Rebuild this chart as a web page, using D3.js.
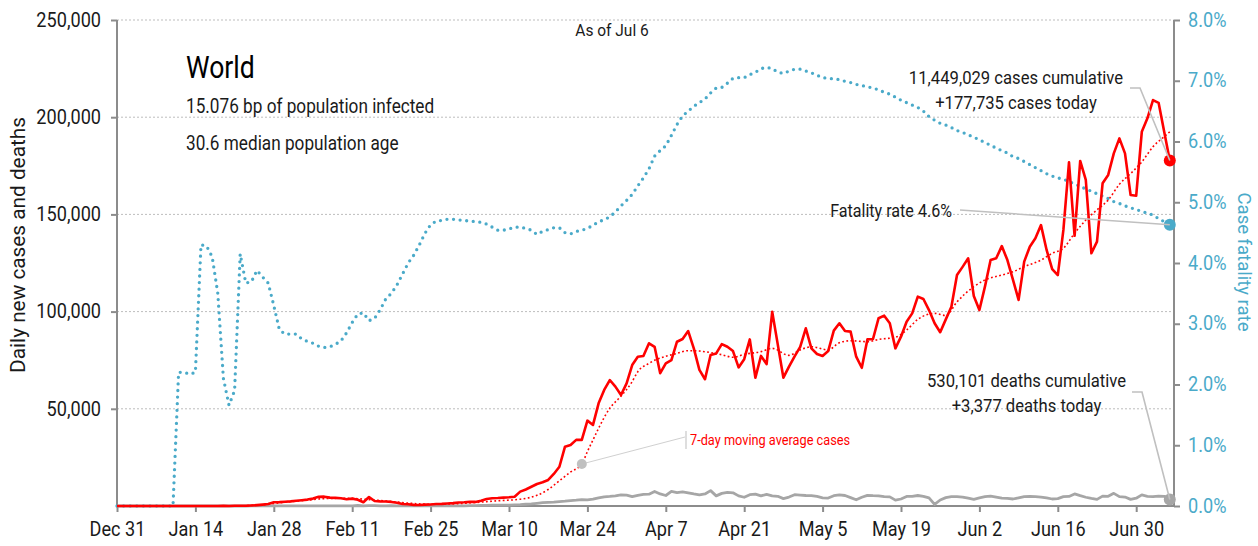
<!DOCTYPE html>
<html><head><meta charset="utf-8">
<script src="https://cdn.jsdelivr.net/npm/d3@7"></script>
<style>
html,body{margin:0;padding:0;background:#fff;}
svg text{font-family:Roboto,'Liberation Sans',sans-serif;}
</style></head><body>
<svg id="chart" width="1258" height="546"></svg>
<script>
// ---------- DATA ----------
const startDate = "2019-12-31"; // day index 0
const endDate = "2020-07-06";

const dailyCases = [
27,0,0,17,0,15,0,0,0,0,
0,0,0,1,0,0,0,4,17,136,
19,151,140,97,260,450,700,1000,1900,2000,
2200,2400,2700,3000,3300,3800,4700,4800,4300,4200,
4000,3500,3800,3200,1900,4600,2600,2400,2300,2100,
1700,1000,900,600,500,700,800,1000,1100,1300,
1500,1800,1900,2100,2100,2700,3600,4000,4100,4300,
4500,4800,7400,8500,9900,11300,12200,13400,16500,20200,
30500,31400,34000,34000,43900,41700,52800,59700,64800,61400,
57100,63100,72500,76800,77200,83700,81900,68300,73400,75100,
84500,85900,90000,81100,70000,65200,77700,78500,83300,81900,
79700,71300,75500,85700,66000,77200,73000,99900,83000,66000,
71700,77000,81900,91400,81100,78200,77200,79700,90200,94000,
90000,89700,76800,71100,85700,85900,96600,97900,94000,81100,
87100,94800,99100,107700,106500,100800,94000,89400,96000,102500,
118800,123000,127400,108000,100800,113000,126500,127400,133700,126500,
116300,106000,125700,133400,137700,144500,131700,121900,118800,142000,
176800,139000,177500,167700,130000,136000,166000,170300,181400,189100,
181400,160000,159600,192500,199400,208800,207400,192500,177735
];

const dailyDeaths = [
0,0,0,0,0,0,0,0,0,0,
0,1,0,0,0,0,0,1,0,1,
3,0,9,8,16,15,24,26,26,38,
43,46,45,57,64,65,73,73,86,89,
97,108,97,254,13,143,142,106,98,139,
115,125,112,98,150,71,100,60,80,70,
100,100,110,150,200,300,350,400,450,500,
500,600,700,900,1100,1400,1700,1900,2000,2300,
2500,2800,3000,3300,3200,3500,4200,4700,4900,5200,
5700,5600,4800,5500,6000,6100,7500,6200,5400,7500,
6900,7300,6800,6200,5700,6200,7900,5200,6500,7000,
6800,5200,4500,5800,6100,5200,6000,5200,5000,3800,
4600,5800,5600,5400,5300,4900,4200,4100,5300,5700,
5400,4300,3200,4500,5500,5300,5200,4800,4700,3000,
3600,4900,5000,5400,5000,4200,800,3100,4300,4800,
4800,4600,4000,3400,4200,4800,5100,4600,4000,3900,
3600,4200,4800,4900,4800,4600,4200,3600,3800,4800,
4900,6200,5300,4500,3900,3400,5100,5000,6500,4800,
4600,3400,4000,5700,5000,4800,5100,5000,3377
];

// case fatality rate, percent
const fatalityRate = [
0,0,0,0,0,0,0,0,0,0,
0,2.2,2.2,2.17,2.2,4.3,4.28,4.1,3.5,2.1,
1.66,1.9,4.15,3.67,3.69,3.88,3.77,3.67,3.3,2.9,
2.83,2.83,2.83,2.75,2.71,2.68,2.63,2.61,2.62,2.66,
2.72,2.85,3.02,3.16,3.18,3.05,3.09,3.23,3.41,3.50,
3.64,3.82,4.0,4.13,4.30,4.49,4.63,4.69,4.70,4.72,
4.72,4.71,4.70,4.69,4.68,4.67,4.64,4.59,4.54,4.54,
4.56,4.59,4.59,4.57,4.54,4.47,4.52,4.55,4.58,4.58,
4.50,4.48,4.52,4.54,4.57,4.62,4.68,4.71,4.76,4.84,
4.94,5.03,5.13,5.27,5.40,5.55,5.76,5.85,5.93,6.10,
6.28,6.42,6.50,6.58,6.64,6.70,6.80,6.88,6.89,6.96,
7.04,7.05,7.05,7.10,7.14,7.20,7.22,7.20,7.14,7.12,
7.16,7.19,7.19,7.16,7.13,7.09,7.05,7.04,7.03,7.02,
6.99,6.97,6.94,6.92,6.90,6.88,6.85,6.81,6.78,6.73,
6.68,6.64,6.60,6.56,6.50,6.41,6.35,6.30,6.27,6.23,
6.18,6.15,6.11,6.07,6.03,5.98,5.94,5.89,5.85,5.81,
5.75,5.72,5.67,5.62,5.57,5.52,5.47,5.43,5.40,5.38,
5.34,5.30,5.26,5.22,5.18,5.14,5.10,5.06,5.01,4.98,
4.94,4.91,4.88,4.85,4.82,4.79,4.73,4.68,4.63
];

// 7-day moving average of cases, read at these day indexes
const maDays  = [0,20,24,27,30,34,37,41,45,48,52,56,60,64,68,72,75,77,79,81,83,84,85,86,88,90,92,93,95,98,100,102,104,106,108,110,112,115,117,120,122,124,127,129,131,134,136,139,141,143,146,148,150,153,155,158,160,162,165,167,169,171,173,175,177,179,181,183,185,187,188];
const maCases = [0,0,300,900,2000,3000,3800,4000,3300,2600,1500,900,1100,1800,2700,3500,5500,8500,13000,17500,21600,28000,34000,40000,50300,56500,64000,69100,73400,77000,78500,79900,79700,78900,77800,76500,78000,79400,81100,77500,80300,81900,80300,84000,85000,84500,85700,86800,90500,96000,99100,98000,105000,112800,116300,118800,120500,123100,126500,130000,132600,140300,147100,152300,157400,165500,171000,177000,184800,190000,192500];
const maAnnotationDay = 83;

const xTickDates  = ["2019-12-31","2020-01-14","2020-01-28","2020-02-11","2020-02-25","2020-03-10","2020-03-24","2020-04-07","2020-04-21","2020-05-05","2020-05-19","2020-06-02","2020-06-16","2020-06-30"];
const xTickLabels = ["Dec 31","Jan 14","Jan 28","Feb 11","Feb 25","Mar 10","Mar 24","Apr 7","Apr 21","May 5","May 19","Jun 2","Jun 16","Jun 30"];
const leftTicks  = [50000,100000,150000,200000,250000];
const rightTicks = [0,0.01,0.02,0.03,0.04,0.05,0.06,0.07,0.08];

const titleText = "World";
const subtitle1 = "15.076 bp of population infected";
const subtitle2 = "30.6 median population age";
const asOfText = "As of Jul 6";
const casesNote = ["11,449,029 cases cumulative","+177,735 cases today"];
const deathsNote = ["530,101 deaths cumulative","+3,377 deaths today"];
const fatalityNote = "Fatality rate 4.6%";
const maNote = "7-day moving average cases";
const leftTitle = "Daily new cases and deaths";
const rightTitle = "Case fatality rate";

// ---------- LAYOUT ----------
const RED = "#ff0000", TEAL = "#4aaac9", GRAY = "#a6a6a6", LGRAY = "#c0c0c0", AXIS = "#8c8c8c", TXT = "#1a1a1a";
const X0 = 117, X1 = 1169.8, AXR = 1174, YT = 20, YB = 506;
const SX_TICK = 0.93, SX_NOTE = 0.9;

const svg = d3.select("#chart");
const parse = d3.timeParse("%Y-%m-%d");
const t0 = parse(startDate);
const dateOf = i => d3.timeDay.offset(t0, i);

const x = d3.scaleTime().domain([t0, parse(endDate)]).range([X0, X1]);
const y = d3.scaleLinear().domain([0, 250000]).range([YB, YT]);
const y2 = d3.scaleLinear().domain([0, 0.08]).range([YB, YT]);

// condensed text helper
function ctext(px, py, str, o) {
  const g = svg.append("g").attr("transform",
    `translate(${px},${py})` + (o.rotate ? ` rotate(${o.rotate})` : "") + ` scale(${o.sx || 1},1)`);
  const t = g.append("text").attr("text-anchor", o.anchor || "start")
    .attr("fill", o.fill || TXT).style("font-size", o.size + "px").text(str);
  return t;
}
function condenseTicks(g, sx) {
  g.selectAll(".tick text").each(function () {
    const s = d3.select(this);
    const xv = +(s.attr("x") || 0);
    s.attr("x", xv / sx).attr("transform", `scale(${sx},1)`);
  });
}

// gridlines
svg.append("g").selectAll("line").data(leftTicks).join("line")
  .attr("x1", X0).attr("x2", AXR).attr("y1", d => y(d)).attr("y2", d => y(d))
  .attr("stroke", "#bdbdbd").attr("stroke-width", 1).attr("stroke-dasharray", "2,2");

// left axis
const gL = svg.append("g").attr("transform", `translate(${X0},0)`)
  .call(d3.axisLeft(y).tickValues(leftTicks).tickFormat(d3.format(",")).tickSize(6).tickPadding(10));
gL.select(".domain").remove();
gL.selectAll(".tick line").attr("stroke", AXIS).attr("stroke-width", 2);
gL.selectAll("text").attr("fill", TXT).style("font-size", "19.5px");
condenseTicks(gL, SX_TICK);
svg.append("line").attr("x1", X0).attr("x2", X0).attr("y1", YT).attr("y2", YB).attr("stroke", AXIS).attr("stroke-width", 2);

// right axis
const gR = svg.append("g").attr("transform", `translate(${AXR},0)`)
  .call(d3.axisRight(y2).tickValues(rightTicks).tickFormat(d3.format(".1%")).tickSize(6).tickPadding(8));
gR.select(".domain").remove();
gR.selectAll(".tick line").attr("stroke", AXIS).attr("stroke-width", 2);
gR.selectAll("text").attr("fill", TEAL).style("font-size", "19.5px");
condenseTicks(gR, SX_TICK);
svg.append("line").attr("x1", AXR).attr("x2", AXR).attr("y1", YT).attr("y2", YB).attr("stroke", AXIS).attr("stroke-width", 2);

// bottom axis
const gB = svg.append("g").attr("transform", `translate(0,${YB})`)
  .call(d3.axisBottom(x).tickValues(xTickDates.map(parse)).tickFormat((d, i) => xTickLabels[i]).tickSize(6).tickPadding(10));
gB.select(".domain").remove();
gB.selectAll(".tick line").attr("stroke", AXIS).attr("stroke-width", 2);
gB.selectAll("text").attr("fill", TXT).style("font-size", "19.5px");
condenseTicks(gB, SX_TICK);
svg.append("line").attr("x1", X0).attr("x2", AXR).attr("y1", YB).attr("y2", YB).attr("stroke", AXIS).attr("stroke-width", 2);

// axis titles
ctext(25, 245, leftTitle, { rotate: -90, anchor: "middle", size: 20, sx: 1.04 });
ctext(1238, 262, rightTitle, { rotate: 90, anchor: "middle", size: 18.5, sx: 1.0, fill: TEAL });

// fatality rate (dotted teal)
const cfrLine = d3.line().x((d, i) => x(dateOf(i))).y(d => y2(d / 100));
svg.append("path").datum(fatalityRate).attr("d", cfrLine).attr("fill", "none")
  .attr("stroke", TEAL).attr("stroke-width", 3.3).attr("stroke-linecap", "round").attr("stroke-dasharray", "0,6.6");

// deaths (gray)
const valLine = d3.line().x((d, i) => x(dateOf(i))).y(d => y(d));
svg.append("path").datum(dailyDeaths).attr("d", valLine).attr("fill", "none")
  .attr("stroke", GRAY).attr("stroke-width", 2.8).attr("stroke-linejoin", "round");

// cases (red)
svg.append("path").datum(dailyCases).attr("d", valLine).attr("fill", "none")
  .attr("stroke", RED).attr("stroke-width", 2.6).attr("stroke-linejoin", "round");

// moving average (red dotted)
const maLine = d3.line().curve(d3.curveMonotoneX).x(d => x(dateOf(d[0]))).y(d => y(d[1]));
svg.append("path").datum(maDays.map((d, i) => [d, maCases[i]])).attr("d", maLine).attr("fill", "none")
  .attr("stroke", RED).attr("stroke-width", 1.6).attr("stroke-dasharray", "1.8,2.4");

// end dots
const last = dailyCases.length - 1;
const lx = x(dateOf(last));
svg.append("circle").attr("cx", lx).attr("cy", y(dailyDeaths[last])).attr("r", 6).attr("fill", GRAY);
svg.append("circle").attr("cx", lx).attr("cy", y2(fatalityRate[last] / 100)).attr("r", 6).attr("fill", TEAL);
svg.append("circle").attr("cx", lx).attr("cy", y(dailyCases[last])).attr("r", 6).attr("fill", RED);

// MA annotation
const maIdx = maDays.indexOf(maAnnotationDay);
const mx = x(dateOf(maAnnotationDay)), my = y(maCases[maIdx]);
svg.append("line").attr("x1", mx).attr("y1", my).attr("x2", 685).attr("y2", 437).attr("stroke", "#d0d0d0").attr("stroke-width", 1);
svg.append("line").attr("x1", 686).attr("y1", 431).attr("x2", 686).attr("y2", 449).attr("stroke", "#c8c8c8").attr("stroke-width", 1.2);
svg.append("circle").attr("cx", mx).attr("cy", my).attr("r", 5).attr("fill", LGRAY);
ctext(690, 445, maNote, { size: 15, sx: 0.85, fill: RED });

// leader lines for notes
const leader = (pts) => svg.append("path").attr("d", d3.line()(pts)).attr("fill", "none").attr("stroke", LGRAY).attr("stroke-width", 1.6);
leader([[1130, 88], [1140, 88], [lx, y(dailyCases[last])]]);
leader([[960, 210], [lx, y2(fatalityRate[last] / 100)]]);
leader([[1132, 392], [1142, 392], [lx, y(dailyDeaths[last])]]);

// notes
ctext(1016, 84, casesNote[0], { anchor: "middle", size: 18.5, sx: SX_NOTE });
ctext(1016, 108.5, casesNote[1], { anchor: "middle", size: 18.5, sx: SX_NOTE });
ctext(1026.5, 387, deathsNote[0], { anchor: "middle", size: 18.5, sx: SX_NOTE });
ctext(1026.5, 411.5, deathsNote[1], { anchor: "middle", size: 18.5, sx: SX_NOTE });
ctext(952, 217, fatalityNote, { anchor: "end", size: 18.5, sx: 0.87 });

// title block
ctext(186, 78, titleText, { size: 32, sx: 0.83, fill: "#000" });
ctext(186, 113, subtitle1, { size: 20, sx: 0.86 });
ctext(186, 150, subtitle2, { size: 20, sx: 0.86 });
ctext(612, 36, asOfText, { anchor: "middle", size: 16, sx: 0.97 });
</script>
</body></html>
